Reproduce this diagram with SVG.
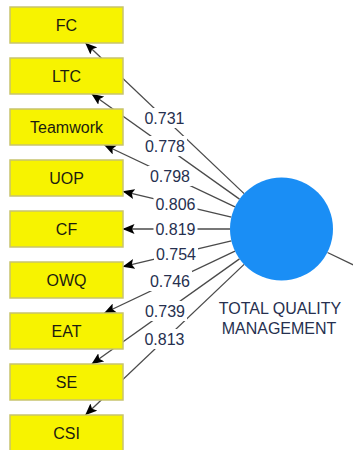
<svg xmlns="http://www.w3.org/2000/svg" width="353" height="450" viewBox="0 0 353 450">
  <style>
    .ind rect { fill: #f7f300; stroke: #c8c46e; stroke-width: 1.5; }
    .ind text { font-family: "Liberation Sans", Arial, sans-serif; font-size: 16px; fill: #1c1c10; text-anchor: middle; }
    .edge { stroke: #4a4a4a; stroke-width: 1.3; fill: none; }
    .arrow { stroke: #4a4a4a; stroke-width: 1.3; fill: none; marker-end: url(#head); }
    .lbl rect { fill: #ffffff; }
    .lbl text { font-family: "Liberation Sans", Arial, sans-serif; font-size: 16px; fill: #26304f; text-anchor: middle; }
    .lv text { font-family: "Liberation Sans", Arial, sans-serif; font-size: 16px; fill: #26304f; text-anchor: middle; }
  </style>
  <defs>
    <marker id="head" viewBox="0 0 12 10" refX="11.5" refY="5" markerWidth="12" markerHeight="10" markerUnits="userSpaceOnUse" orient="auto">
      <path d="M0,0 L12,5 L0,10 L2.5,5 z" fill="#000000"/>
    </marker>
  </defs>
  <rect width="353" height="450" fill="#ffffff"/>

  <!-- outer loadings: latent variable to indicators -->
  <g id="connectors">
    <line class="arrow" x1="244.1" y1="193.6" x2="85.5" y2="43"/>
    <line class="arrow" x1="239.5" y1="199.1" x2="91.8" y2="94"/>
    <line class="arrow" x1="235.0" y1="206.9" x2="104.4" y2="145"/>
    <line class="arrow" x1="231.4" y1="217.1" x2="123" y2="191.4"/>
    <line class="arrow" x1="230" y1="229" x2="123" y2="229"/>
    <line class="arrow" x1="231.4" y1="240.9" x2="123" y2="266.6"/>
    <line class="arrow" x1="235.0" y1="251.1" x2="104.4" y2="313"/>
    <line class="arrow" x1="239.5" y1="258.9" x2="91.8" y2="364"/>
    <line class="arrow" x1="244.1" y1="264.4" x2="85.5" y2="415"/>
    <line class="edge" x1="327.5" y1="252.5" x2="360" y2="268"/>
  </g>

  <!-- loading values -->
  <g id="loadings" class="lbl">
    <rect x="142.5" y="108" width="44" height="20"/><text x="164.5" y="124">0.731</text>
    <rect x="143" y="136" width="44" height="20"/><text x="165" y="152">0.778</text>
    <rect x="148" y="166" width="44" height="20"/><text x="170" y="182">0.798</text>
    <rect x="153.5" y="194" width="44" height="20"/><text x="175.5" y="210">0.806</text>
    <rect x="153.5" y="219" width="44" height="20"/><text x="175.5" y="235">0.819</text>
    <rect x="154" y="243.5" width="44" height="20"/><text x="176" y="259.5">0.754</text>
    <rect x="148" y="271" width="44" height="20"/><text x="170" y="287">0.746</text>
    <rect x="143" y="301" width="44" height="20"/><text x="165" y="317">0.739</text>
    <rect x="142.5" y="329" width="44" height="20"/><text x="164.5" y="345">0.813</text>
  </g>

  <!-- indicators -->
  <g id="FC" class="ind"><rect x="10" y="7" width="113" height="36"/><text x="66.5" y="31">FC</text></g>
  <g id="LTC" class="ind"><rect x="10" y="58" width="113" height="36"/><text x="66.5" y="82">LTC</text></g>
  <g id="Teamwork" class="ind"><rect x="10" y="109" width="113" height="36"/><text x="66.5" y="133">Teamwork</text></g>
  <g id="UOP" class="ind"><rect x="10" y="160" width="113" height="36"/><text x="66.5" y="184">UOP</text></g>
  <g id="CF" class="ind"><rect x="10" y="211" width="113" height="36"/><text x="66.5" y="235">CF</text></g>
  <g id="OWQ" class="ind"><rect x="10" y="262" width="113" height="36"/><text x="66.5" y="286">OWQ</text></g>
  <g id="EAT" class="ind"><rect x="10" y="313" width="113" height="36"/><text x="66.5" y="337">EAT</text></g>
  <g id="SE" class="ind"><rect x="10" y="364" width="113" height="36"/><text x="66.5" y="388">SE</text></g>
  <g id="CSI" class="ind"><rect x="10" y="415" width="113" height="36"/><text x="66.5" y="439">CSI</text></g>

  <!-- latent variable -->
  <g id="TQM" class="lv">
    <circle cx="281.5" cy="229" r="51.5" fill="#1a8ef5"/>
    <text x="280" y="314">TOTAL QUALITY</text>
    <text x="279" y="334">MANAGEMENT</text>
  </g>
</svg>
